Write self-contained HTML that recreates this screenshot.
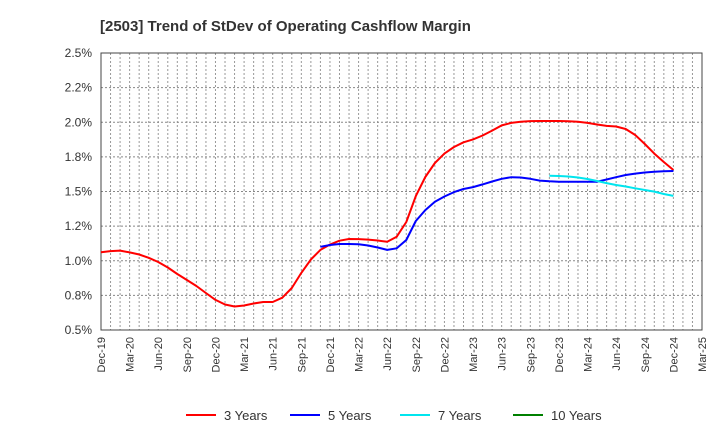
<!DOCTYPE html>
<html><head><meta charset="utf-8"><style>
html,body{margin:0;padding:0;background:#fff;}
svg{display:block;font-family:"Liberation Sans",sans-serif;}
</style></head><body>
<svg id="chart" width="720" height="440" viewBox="0 0 720 440" xmlns="http://www.w3.org/2000/svg">
<text x="100" y="31" font-size="15" font-weight="bold" fill="#333">[2503]  Trend of StDev of Operating Cashflow Margin</text>
<g id="grid"></g>
<g id="axes"></g>
<g id="series"></g>
<g id="legend"></g>
</svg>
<script>
const xTickLabels=["Dec-19","Mar-20","Jun-20","Sep-20","Dec-20","Mar-21","Jun-21","Sep-21","Dec-21","Mar-22","Jun-22","Sep-22","Dec-22","Mar-23","Jun-23","Sep-23","Dec-23","Mar-24","Jun-24","Sep-24","Dec-24","Mar-25"];
const yTickValues=[0.5,0.75,1.0,1.25,1.5,1.75,2.0,2.25,2.5];
const yTickLabels=["0.5%","0.8%","1.0%","1.2%","1.5%","1.8%","2.0%","2.2%","2.5%"];
const seriesNames=["3 Years","5 Years","7 Years","10 Years"];
const seriesColors=["#ff0000","#0000ff","#00e5ee","#008000"];
const start3=0;
const values3=[1.061,1.070,1.073,1.060,1.045,1.021,0.991,0.951,0.904,0.861,0.818,0.767,0.717,0.684,0.670,0.677,0.691,0.702,0.702,0.733,0.803,0.912,1.009,1.078,1.117,1.145,1.157,1.156,1.153,1.146,1.137,1.174,1.280,1.467,1.605,1.706,1.774,1.821,1.855,1.876,1.904,1.940,1.977,1.995,2.004,2.008,2.009,2.009,2.009,2.007,2.003,1.995,1.984,1.974,1.969,1.951,1.908,1.843,1.774,1.713,1.655];
const start5=23;
const values5=[1.101,1.114,1.121,1.121,1.119,1.110,1.096,1.078,1.090,1.150,1.287,1.366,1.426,1.464,1.496,1.518,1.532,1.551,1.572,1.592,1.603,1.601,1.592,1.579,1.574,1.571,1.570,1.570,1.571,1.571,1.587,1.603,1.619,1.629,1.637,1.643,1.646,1.648];
const start7=47;
const values7=[1.614,1.612,1.608,1.601,1.590,1.576,1.561,1.547,1.536,1.523,1.511,1.499,1.482,1.468];
const values10=[];

const L=101,R=702,T=53,B=330,NM=63;
const xs=m=>L+(R-L)*m/NM;
const ys=v=>B-(B-T)*(v-0.5)/2.0;
const NS="http://www.w3.org/2000/svg";
function mk(tag,parent){const e=document.createElementNS(NS,tag);parent.appendChild(e);return e;}
const grid=document.getElementById('grid'),axes=document.getElementById('axes'),series=document.getElementById('series'),legend=document.getElementById('legend');

for(let m=1;m<NM;m++){
 const l=mk('line',grid);
 
 
 l.setAttribute('x1',xs(m));l.setAttribute('x2',xs(m));l.setAttribute('y1',T);l.setAttribute('y2',B);
 l.setAttribute('stroke','#999');l.setAttribute('stroke-width','1');l.setAttribute('stroke-dasharray','2,2');
}
yTickValues.forEach((v,i)=>{
 if(i>0&&i<yTickValues.length-1){
 const l=mk('line',grid);
 
 
 l.setAttribute('x1',L);l.setAttribute('x2',R);l.setAttribute('y1',ys(v));l.setAttribute('y2',ys(v));
 l.setAttribute('stroke','#888');l.setAttribute('stroke-width','1');l.setAttribute('stroke-dasharray','2,2');}
 const t=mk('text',axes);
 
 
 t.setAttribute('x',L-9);t.setAttribute('y',ys(v)+4);t.setAttribute('text-anchor','end');t.setAttribute('font-size','12');t.setAttribute('fill','#333');
 t.textContent=yTickLabels[i];
});
xTickLabels.forEach((s,i)=>{
 const x=xs(i*3);
 const t=mk('text',axes);
 
 
 t.setAttribute('transform','translate('+(x+4)+','+(B+7)+') rotate(-90)');
 t.setAttribute('text-anchor','end');t.setAttribute('font-size','11');t.setAttribute('fill','#333');
 t.textContent=s;
});
const frame=mk('rect',axes);


frame.setAttribute('x',L);frame.setAttribute('y',T);frame.setAttribute('width',R-L);frame.setAttribute('height',B-T);
frame.setAttribute('fill','none');frame.setAttribute('stroke','#444');frame.setAttribute('stroke-width','1');

function drawLine(vals,start,color,name){
 if(!vals.length)return;
 const p=mk('polyline',series);
 
 
 p.setAttribute('points',vals.map((v,i)=>xs(start+i).toFixed(1)+','+ys(v).toFixed(1)).join(' '));
 p.setAttribute('fill','none');p.setAttribute('stroke',color);p.setAttribute('stroke-width','2');p.setAttribute('stroke-linejoin','round');
}
drawLine(values3,start3,seriesColors[0],'line-3-years');
drawLine(values5,start5,seriesColors[1],'line-5-years');
drawLine(values7,start7,seriesColors[2],'line-7-years');
drawLine(values10,0,seriesColors[3],'line-10-years');

const legX=[186,290,400,513];
seriesNames.forEach((n,i)=>{
 const l=mk('line',legend);
 
 
 l.setAttribute('x1',legX[i]);l.setAttribute('x2',legX[i]+30);l.setAttribute('y1',415);l.setAttribute('y2',415);
 l.setAttribute('stroke',seriesColors[i]);l.setAttribute('stroke-width','2');
 const t=mk('text',legend);
 
 
 t.setAttribute('x',legX[i]+38);t.setAttribute('y',420);t.setAttribute('font-size','13');t.setAttribute('fill','#333');
 t.textContent=n;
});
</script>
</body></html>
